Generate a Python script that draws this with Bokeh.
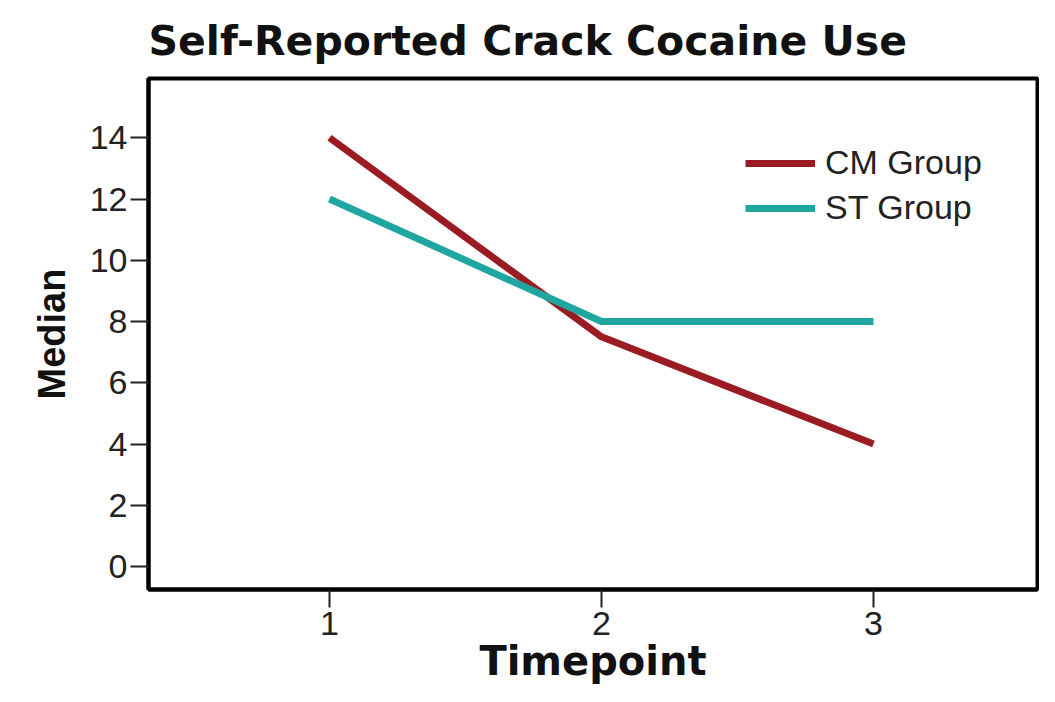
from bokeh.plotting import figure
from bokeh.models import Range1d, FixedTicker, Legend, LegendItem, Title
from bokeh.embed import file_html
from bokeh.resources import INLINE

timepoints = [1, 2, 3]
cm_group = [14, 7.5, 4]
st_group = [12, 8, 8]
y_ticks = [0, 2, 4, 6, 8, 10, 12, 14]

p = figure(width=1039, height=686, output_backend="svg", toolbar_location=None,
           x_range=Range1d(0.3346, 3.603), y_range=Range1d(-0.75, 15.935),
           min_border_left=148, min_border_right=2, min_border_top=78, min_border_bottom=60)
p.title = Title(text="Self-Reported Crack Cocaine Use", text_font="DejaVu Sans",
                text_font_size="41px", text_font_style="bold", text_color="#111111",
                align="left", standoff=27)
p.grid.visible = False
p.outline_line_color = "black"
p.outline_line_width = 4
p.background_fill_color = "white"
p.border_fill_color = "white"

for ax in (p.xaxis[0], p.yaxis[0]):
    ax.axis_line_width = 4
    ax.axis_line_color = "black"
    ax.major_tick_line_width = 2
    ax.major_tick_line_color = "#222222"
    ax.major_tick_in = 0
    ax.major_tick_out = 18
    ax.minor_tick_line_color = None
    ax.major_label_text_font = "Liberation Sans"
    ax.major_label_text_font_size = "34px"
    ax.major_label_text_color = "#222222"

p.xaxis.ticker = FixedTicker(ticks=timepoints)
p.yaxis.ticker = FixedTicker(ticks=y_ticks)
p.xaxis.axis_label = "Timepoint"
p.xaxis.axis_label_text_font = "DejaVu Sans"
p.xaxis.axis_label_text_font_size = "40px"
p.xaxis.axis_label_text_font_style = "bold"
p.xaxis.axis_label_text_color = "#111111"
p.xaxis.axis_label_standoff = 0
p.xaxis.major_label_standoff = 4
p.yaxis.axis_label = "Median"
p.yaxis.axis_label_text_font = "Liberation Sans"
p.yaxis.axis_label_text_font_size = "38px"
p.yaxis.axis_label_text_font_style = "bold"
p.yaxis.axis_label_text_color = "#111111"
p.yaxis.axis_label_standoff = 14
p.yaxis.major_label_standoff = 3

r1 = p.line(timepoints, cm_group, line_color="#9B1B22", line_width=7)
r2 = p.line(timepoints, st_group, line_color="#1FA6A0", line_width=7)

legend = Legend(items=[LegendItem(label="CM Group", renderers=[r1]),
                       LegendItem(label="ST Group", renderers=[r2])],
                background_fill_alpha=0, border_line_color=None,
                label_text_font="Liberation Sans", label_text_font_size="34px",
                label_text_color="#222222", glyph_width=70, glyph_height=30,
                label_standoff=10, spacing=6, margin=0, padding=0)
legend.location = (597, 362)
p.add_layout(legend)

open("out.html", "w").write(file_html(p, INLINE))
